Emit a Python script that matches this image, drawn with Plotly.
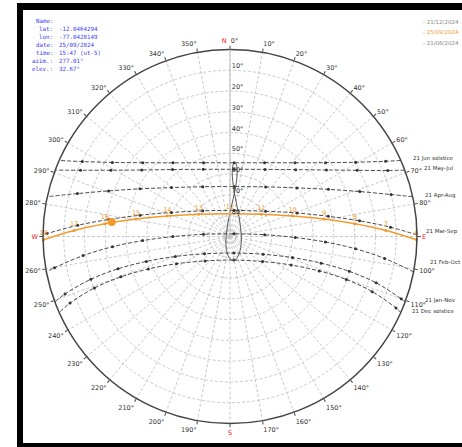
import plotly.graph_objects as go

# Sun paths seen from lat -12.05 (Lima): elevation / azimuth in degrees,
# sunrise point, clock hours, sunset point.
jun_el = [0.0, 6.8, 19.8, 31.9, 42.7, 50.8, 54.5, 52.3, 45.2, 35.0, 23.1, 10.3, 0.0]
jun_az = [66.0, 64.2, 59.4, 52.3, 41.4, 25.1, 3.2, 340.3, 322.3, 310.2, 302.2, 296.9, 294.0]
may_jul_el = [0.0, 7.7, 21.0, 33.6, 44.9, 53.6, 57.6, 55.2, 47.5, 36.8, 24.4, 11.3, 0.0]
may_jul_az = [69.2, 67.3, 62.5, 55.4, 44.5, 27.5, 3.5, 338.3, 319.3, 307.0, 299.1, 293.9, 290.8]
apr_aug_el = [0.0, 9.9, 23.9, 37.5, 50.2, 60.6, 65.9, 62.7, 53.3, 41.0, 27.6, 13.7, 0.0]
apr_aug_az = [77.7, 75.4, 70.9, 64.4, 54.0, 35.7, 4.8, 331.3, 309.9, 297.9, 290.6, 285.7, 282.3]
mar_sep_el = [0.0, 12.6, 27.2, 41.7, 55.8, 69.0, 77.3, 72.0, 59.5, 45.5, 31.1, 16.5, 1.9, 0.0]
mar_sep_az = [89.5, 86.7, 83.1, 78.4, 70.7, 54.6, 9.1, 313.3, 292.3, 283.3, 278.0, 274.2, 270.9, 270.5]
feb_oct_el = [0.0, 14.8, 29.3, 44.0, 58.6, 73.3, 87.7, 77.2, 62.5, 47.9, 33.2, 18.7, 4.2, 0.0]
feb_oct_az = [100.9, 98.1, 95.6, 93.3, 90.9, 87.1, 55.7, 274.7, 269.9, 267.3, 265.0, 262.6, 259.9, 259.1]
jan_nov_el = [0.0, 2.3, 16.2, 30.2, 44.3, 58.3, 71.9, 81.8, 75.2, 62.0, 48.0, 33.9, 19.9, 5.9, 0.0]
jan_nov_az = [110.5, 110.0, 107.6, 106.3, 106.3, 108.7, 118.2, 166.7, 235.9, 249.9, 253.4, 253.9, 252.9, 250.8, 249.5]
dec_el = [0.0, 3.0, 16.6, 30.3, 44.0, 57.5, 70.2, 78.5, 73.2, 61.1, 47.7, 34.0, 20.2, 6.6, 0.0]
dec_az = [114.0, 113.3, 111.2, 110.3, 111.1, 115.0, 127.5, 170.8, 225.6, 243.0, 248.3, 249.7, 249.2, 247.4, 246.0]

path_labels = ["21 Jun solstice", "21 May-Jul", "21 Apr-Aug", "21 Mar-Sep",
               "21 Feb-Oct", "21 Jan-Nov", "21 Dec solstice"]

# Selected day, one point per clock hour
day_hours = [6, 7, 8, 9, 10, 11, 12, 13, 14, 15, 16, 17, 18]
day_el = [0.2, 14.9, 29.5, 44.0, 58.3, 71.5, 79.0, 71.5, 58.3, 44.0, 29.5, 14.9, 0.2]
day_az = [91.0, 87.8, 84.2, 79.5, 71.9, 54.5, 0.0, 305.5, 288.1, 280.5, 275.8, 272.2, 269.0]

# Analemma at 12:00 local time (1st and 15th of each month)
ana_el = [78.7, 80.0, 82.7, 84.5, 83.4, 79.4, 73.4, 68.2, 62.9, 59.1, 55.9, 54.6,
          54.7, 56.3, 59.7, 63.7, 69.5, 74.7, 80.9, 86.2, 87.0, 83.4, 80.2, 78.7]
ana_az = [166.2, 156.1, 134.8, 95.7, 50.2, 24.0, 10.5, 5.3, 2.7, 2.0, 2.3, 3.2,
          4.5, 5.6, 6.5, 6.7, 5.7, 3.2, 356.8, 337.6, 221.5, 195.1, 183.8, 176.1]

# Current position
sun_azim = 277.01
sun_elev = 32.67

info_keys = ["Name:", "lat:", "lon:", "date:", "time:", "azim.:", "elev.:"]
info_vals = ["", "-12.0464294", "-77.0428149", "25/09/2024", "15:47 (ut-5)",
             "277.01°", "32.67°"]
legend_dates = ["21/12/2024", "25/09/2024", "21/06/2024"]

az_ticks = list(range(0, 360, 10))
el_ticks = [10, 20, 30, 40, 50, 60, 70, 80]
cardinals = {0: "N", 90: "E", 180: "S", 270: "W"}

W, H = 462, 447
CX, CY, R = 230.0, 236.5, 187.0
PATH_COL = "#4a4a4a"
ORANGE = "#f29a2e"
BLUE = "#3c3cf0"
FONT = "DejaVu Sans"

# pixel anchors (left edge, middle) of the path names beside the horizon
label_pos = [(412, 158), (423, 169), (424, 196), (425, 231),
             (429, 262), (424, 300), (411, 311)]


def tick_text(a):
    red = '<span style="color:#e8202a">%s</span>'
    if a == 0:
        return red % "N" + "  0°"
    if a in cardinals:
        return red % cardinals[a]
    return "%d°" % a


def px(x):
    return x / W


def py(y):
    return 1 - y / H


fig = go.Figure()

paths = [(jun_el, jun_az), (may_jul_el, may_jul_az), (apr_aug_el, apr_aug_az),
         (mar_sep_el, mar_sep_az), (feb_oct_el, feb_oct_az),
         (jan_nov_el, jan_nov_az), (dec_el, dec_az)]

for el, az in paths:
    fig.add_trace(go.Scatterpolar(
        r=el, theta=az, mode="lines",
        line=dict(color=PATH_COL, width=1, dash="4px,2px", shape="spline"),
        hoverinfo="skip", showlegend=False))
    fig.add_trace(go.Scatterpolar(
        r=el[1:-1], theta=az[1:-1], mode="markers",
        marker=dict(size=3, color="#333333"),
        hoverinfo="skip", showlegend=False))

for lab, (lx, ly) in zip(path_labels, label_pos):
    fig.add_annotation(x=px(lx), y=py(ly), xref="paper", yref="paper", text=lab,
                       showarrow=False, xanchor="left", yanchor="middle", borderpad=0,
                       font=dict(size=5.5, color="#333333", family=FONT))

# noon analemma
fig.add_trace(go.Scatterpolar(
    r=ana_el + ana_el[:1], theta=ana_az + ana_az[:1], mode="lines",
    line=dict(color="#555555", width=1, shape="spline"),
    hoverinfo="skip", showlegend=False))

# selected day
fig.add_trace(go.Scatterpolar(
    r=day_el, theta=day_az, mode="lines+markers+text",
    line=dict(color=ORANGE, width=1.5, shape="spline"),
    marker=dict(size=3, color=ORANGE),
    text=[str(h) for h in day_hours], textposition="top center",
    textfont=dict(size=6.5, color=ORANGE, family=FONT),
    cliponaxis=False, hoverinfo="skip", showlegend=False))

fig.add_trace(go.Scatterpolar(
    r=[sun_elev], theta=[sun_azim], mode="markers",
    marker=dict(size=8, color=ORANGE),
    hoverinfo="skip", showlegend=False))

fig.update_layout(
    width=W, height=H, autosize=False,
    margin=dict(l=0, r=0, t=0, b=0),
    paper_bgcolor="white", plot_bgcolor="white",
    showlegend=False,
    polar=dict(
        domain=dict(x=[(CX - R) / W, (CX + R) / W],
                    y=[(H - CY - R) / H, (H - CY + R) / H]),
        bgcolor="white",
        angularaxis=dict(
            rotation=90, direction="clockwise",
            tickmode="array", tickvals=az_ticks,
            ticktext=[tick_text(a) for a in az_ticks],
            tickfont=dict(size=6.5, color="#333333", family=FONT),
            ticks="outside", ticklen=3, tickcolor="#444444",
            showline=True, linecolor="#444444", linewidth=1.5,
            showgrid=True, gridcolor="#c9c9c9", griddash="3px,2px", gridwidth=0.8,
        ),
        radialaxis=dict(
            range=[90, 0], angle=90, side="clockwise", tickangle=90,
            tickmode="array", tickvals=el_ticks,
            # labels sit just above their ring
            ticktext=["%d°<br> " % v for v in el_ticks],
            tickfont=dict(size=6.5, color="#333333", family=FONT),
            ticks="", showline=True, linecolor="#c0c0c0", linewidth=1,
            showgrid=True, gridcolor="#c9c9c9", griddash="3px,2px", gridwidth=0.8,
        ),
    ),
)

# black frame around the picture
for x0, y0, x1, y1 in [(17, 3, 462, 10), (17, 3, 23, 447), (17, 443, 462, 447)]:
    fig.add_shape(type="rect", xref="paper", yref="paper",
                  x0=px(x0), x1=px(x1), y0=py(y1), y1=py(y0),
                  line=dict(width=0), fillcolor="black", layer="above")

# info block
for i, (k, v) in enumerate(zip(info_keys, info_vals)):
    yy = py(21 + i * 8.0)
    fig.add_annotation(x=px(55), y=yy, xref="paper", yref="paper", text=k,
                       showarrow=False, xanchor="right", yanchor="middle",
                       font=dict(size=5.8, color=BLUE, family="DejaVu Sans Mono"))
    fig.add_annotation(x=px(57), y=yy, xref="paper", yref="paper", text=v,
                       showarrow=False, xanchor="left", yanchor="middle",
                       font=dict(size=5.8, color=BLUE, family="DejaVu Sans Mono"))

# date key
for i, (d, c) in enumerate(zip(legend_dates, ["#888888", ORANGE, "#888888"])):
    fig.add_annotation(x=px(421), y=py(22 + i * 10.5), xref="paper", yref="paper",
                       text="- " + d, showarrow=False, xanchor="left", yanchor="middle",
                       font=dict(size=5.5, color=c, family=FONT))

fig.write_html("out.html")
